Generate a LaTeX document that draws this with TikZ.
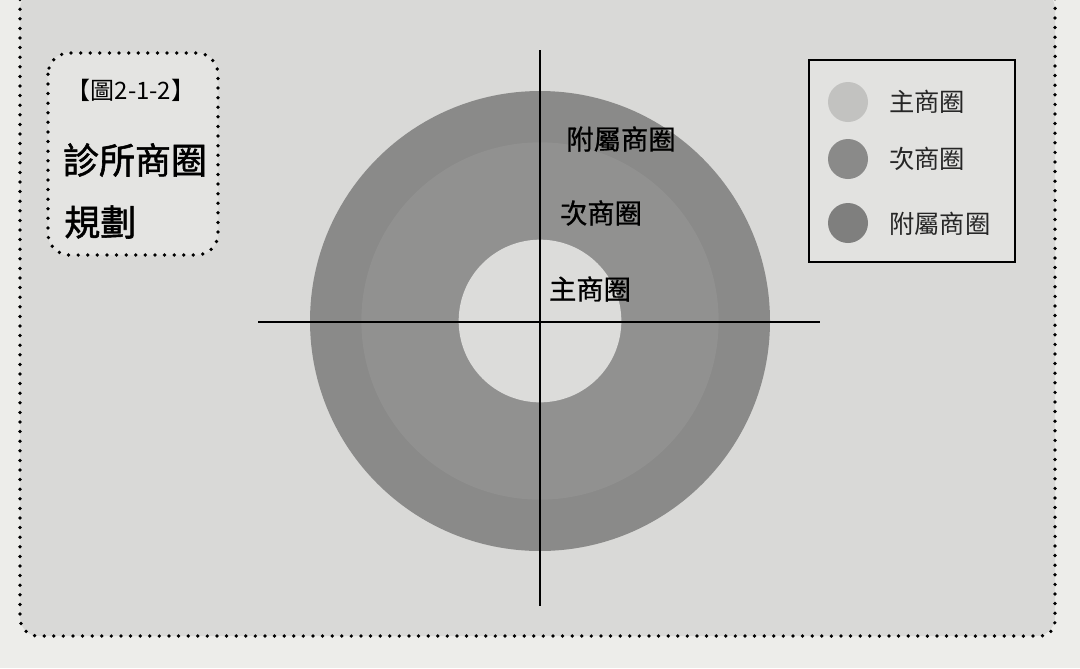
\documentclass[tikz,border=0pt]{standalone}
\usepackage{fontspec}
\newfontfamily\cjk{Noto Sans CJK TC}
\newfontfamily\cjkm{Noto Sans CJK TC}[FakeBold=0.8]
\newfontfamily\cjkb{Noto Sans CJK TC}[FakeBold=1.5]
\begin{document}
\begin{tikzpicture}[x=0.75pt,y=-0.75pt,
  dotline/.style={line width=2.8pt, line cap=round, dash pattern=on 0pt off 7.2pt},
  ringlabel/.style={font=\cjkm\fontsize{20.5}{21}\selectfont, text=black, inner sep=0pt},
  legendtext/.style={font=\cjk\fontsize{19}{19}\selectfont, text=black!85, anchor=west, inner sep=0pt},
  legenddot/.style={circle, minimum size=30pt, inner sep=0pt}]
\definecolor{pagebg}{HTML}{EDEDEA}
\definecolor{panelbg}{HTML}{D9D9D7}
\definecolor{ringouter}{HTML}{8A8A89}
\definecolor{ringmid}{HTML}{919190}
\definecolor{ringinner}{HTML}{DCDCDA}
\definecolor{legendbg}{HTML}{E2E2E0}
\definecolor{lightbox}{HTML}{E4E4E2}
\useasboundingbox (0,0) rectangle (1080,668);
\fill[pagebg] (0,0) rectangle (1080,668);
% outer panel
\fill[panelbg, rounded corners=14pt] (20,-10) rectangle (1055,636);
\draw[dotline] (20,-10) -- (20,618) to[out=-90,in=180] (38,636) -- (1040,636) to[out=0,in=-90] (1055,621) -- (1055,-10);
% title box
\node[draw=none, fill=lightbox, rounded corners=16pt, minimum width=128pt, minimum height=152pt] (titlebox) at (133,154) {};
\draw[dotline, rounded corners=16pt] (48,53) rectangle (218,255);
\node[font=\cjk\fontsize{18}{18}\selectfont, inner sep=0pt] (fig) at (131,90) {【圖2-1-2】};
\node[font=\cjkb\fontsize{27}{27}\selectfont, inner sep=0pt] (title1) at (135,160) {診所商圈};
\node[font=\cjkb\fontsize{27}{27}\selectfont, inner sep=0pt, anchor=west] (title2) at (64,222) {規劃};
% rings
\coordinate (c) at (540,321);
\fill[ringouter] (c) circle[radius=172.5pt];
\fill[ringmid] (c) circle[radius=134pt];
\fill[ringinner] (c) circle[radius=61pt];
% axes
\coordinate (vtop) at (540,50);
\coordinate (vbot) at (540,606);
\coordinate (hl) at (258,322);
\coordinate (hr) at (820,322);
\draw[line width=1.4pt] (vtop) -- (vbot);
\draw[line width=1.4pt] (hl) -- (hr);
% ring labels
\node[ringlabel] (lab3) at (621,139) {附屬商圈};
\node[ringlabel] (lab2) at (601,213) {次商圈};
\node[ringlabel] (lab1) at (590,289) {主商圈};
% legend
\node[draw=black, line width=1.6pt, fill=legendbg, minimum width=154pt, minimum height=151pt, inner sep=0pt] (legend) at (912,161) {};
\node[legenddot, fill=ringinner!88!black] (d1) at (848,102) {};
\node[legenddot, fill=ringmid!95!black] (d2) at (848,159) {};
\node[legenddot, fill=ringouter!92!black] (d3) at (848,223) {};
\node[legendtext] (t1) at (889,102) {主商圈};
\node[legendtext] (t2) at (889,159) {次商圈};
\node[legendtext] (t3) at (889,224) {附屬商圈};
\end{tikzpicture}
\end{document}
